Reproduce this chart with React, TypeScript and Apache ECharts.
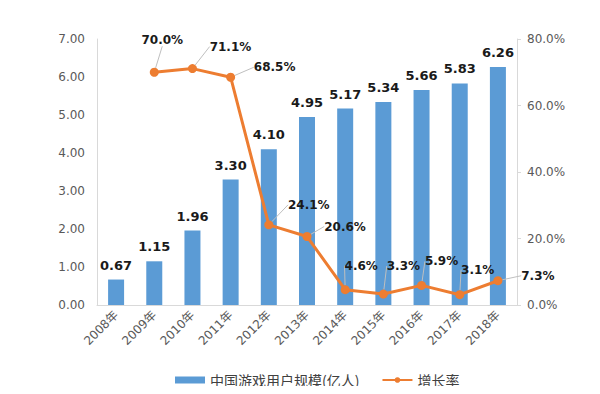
import React, { useEffect, useRef } from "react";
import * as echarts from "echarts";

const categories = ["2008年", "2009年", "2010年", "2011年", "2012年", "2013年", "2014年", "2015年", "2016年", "2017年", "2018年"];
const users = [0.67, 1.15, 1.96, 3.3, 4.1, 4.95, 5.17, 5.34, 5.66, 5.83, 6.26];
const growth: (number | null)[] = [null, 70.0, 71.1, 68.5, 24.1, 20.6, 4.6, 3.3, 5.9, 3.1, 7.3];
const leftTicks = { min: 0, max: 7, interval: 1 };
const rightTicks = { min: 0, max: 80, interval: 20 };

// label placement (dx, dy) relative to the point, styling only
const labelOffsets: [number, number][] = [
  [0, 0], [8, -32], [38, -22], [44, -10], [40, -20], [38, -10], [16, -24], [20, -28], [20, -24], [18, -25], [40, -5],
];

export default function App() {
  const ref = useRef<HTMLDivElement>(null);
  useEffect(() => {
    if (!ref.current) return;
    const chart = echarts.init(ref.current, null, { renderer: "svg" });
    const font = "DejaVu Sans, Noto Sans CJK SC, sans-serif";
    chart.setOption({
      animation: false,
      textStyle: { fontFamily: font },
      grid: { left: 97, right: 83, top: 39, bottom: 89 },
      legend: {
        bottom: 2,
        left: 170,
        itemWidth: 30,
        itemHeight: 7,
        itemGap: 22,
        textStyle: { fontSize: 14, color: "#404040", fontFamily: "Noto Sans CJK SC, sans-serif" },
        data: [
          { name: "中国游戏用户规模(亿人)", icon: "rect" },
          { name: "增长率" },
        ],
      },
      xAxis: {
        type: "category",
        data: categories,
        axisLine: { lineStyle: { color: "#d9d9d9" } },
        axisTick: { show: false },
        axisLabel: { rotate: 45, color: "#595959", fontSize: 12, margin: 8, interval: 0 },
      },
      yAxis: [
        {
          type: "value",
          ...leftTicks,
          axisLine: { show: true, lineStyle: { color: "#d9d9d9" } },
          axisTick: { show: false },
          splitLine: { show: false },
          axisLabel: { color: "#595959", fontSize: 12, margin: 12, formatter: (v: number) => v.toFixed(2) },
        },
        {
          type: "value",
          ...rightTicks,
          position: "right",
          axisLine: { show: true, lineStyle: { color: "#d9d9d9" } },
          axisTick: { show: true, length: 4, lineStyle: { color: "#d9d9d9" } },
          splitLine: { show: false },
          axisLabel: { color: "#595959", fontSize: 12, margin: 10, formatter: (v: number) => v.toFixed(1) + "%" },
        },
      ],
      series: [
        {
          name: "中国游戏用户规模(亿人)",
          type: "bar",
          data: users,
          barWidth: 16,
          itemStyle: { color: "#5b9bd5" },
          label: {
            show: true,
            position: "top",
            distance: 8,
            color: "#1a1a1a",
            fontWeight: "bold",
            fontSize: 13,
            formatter: (p: any) => p.value.toFixed(2),
          },
        },
        {
          name: "增长率",
          type: "line",
          yAxisIndex: 1,
          data: growth,
          symbol: "circle",
          symbolSize: 9,
          lineStyle: { color: "#ed7d31", width: 3 },
          itemStyle: { color: "#ed7d31" },
          label: {
            show: true,
            position: "inside",
            color: "#1a1a1a",
            fontWeight: "bold",
            fontSize: 12,
            formatter: (p: any) => (p.value == null ? "" : p.value.toFixed(1) + "%"),
          },
          labelLine: { show: true, lineStyle: { color: "#bfbfbf", width: 1 } },
          labelLayout: (p: any) => {
            const o = labelOffsets[p.dataIndex] || [0, 0];
            return { dx: o[0], dy: o[1] };
          },
        },
      ],
    });
    return () => chart.dispose();
  }, []);
  return <div ref={ref} style={{ width: 600, height: 394, margin: -8 }} />;
}
